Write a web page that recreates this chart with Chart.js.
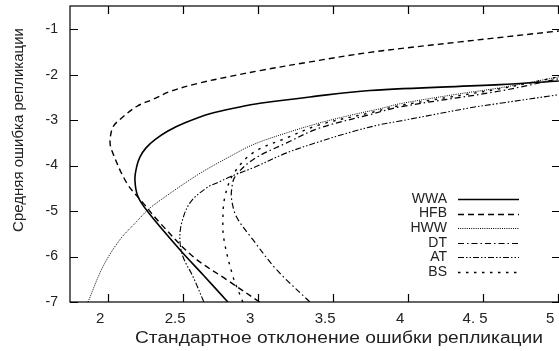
<!DOCTYPE html>
<html>
<head>
<meta charset="utf-8">
<script src="https://cdn.jsdelivr.net/npm/chart.js@4.4.0/dist/chart.umd.min.js"></script>
<style>
    html, body { margin: 0; padding: 0; background: #fff; overflow: hidden; }
</style>
</head>
<body>
<canvas id="chart" width="562" height="351"></canvas>
<script>
const seriesNames = ["WWA", "HFB", "HWW", "DT", "AT", "BS"];

// points, along each curve from the bottom branch to the top one
const wwaX = [2.798, 2.632, 2.478, 2.265, 2.198, 2.178, 2.19, 2.212, 2.252, 2.312, 2.398, 2.512, 2.678, 2.878, 3.012, 3.345, 3.745, 4.612, 5.005];
const wwaY = [-7.0, -6.40, -5.85, -5.02, -4.68, -4.31, -4.02, -3.81, -3.61, -3.43, -3.24, -3.06, -2.86, -2.71, -2.63, -2.49, -2.35, -2.22, -2.14];

const hfbX = [3.01, 2.79, 2.565, 2.345, 2.232, 2.123, 2.023, 2.012, 2.032, 2.08, 2.19, 2.30, 2.412, 2.60, 2.812, 3.012, 3.345, 3.745, 4.345, 5.005];
const hfbY = [-7.0, -6.51, -6.0, -5.26, -4.82, -4.38, -3.66, -3.45, -3.15, -2.98, -2.70, -2.54, -2.37, -2.19, -2.04, -1.91, -1.72, -1.51, -1.28, -1.04];

const hwwX = [1.865, 1.965, 2.078, 2.19, 2.265, 2.323, 2.478, 2.632, 2.812, 2.965, 3.19, 3.412, 3.632, 3.812, 3.945, 4.345, 4.612, 5.005];
const hwwY = [-7.0, -6.22, -5.63, -5.23, -4.97, -4.82, -4.46, -4.13, -3.80, -3.54, -3.28, -3.06, -2.88, -2.75, -2.64, -2.42, -2.29, -2.05];

const dtX = [3.345, 3.123, 2.965, 2.856, 2.823, 2.823, 2.845, 2.965, 3.19, 3.412, 3.745, 3.945, 4.612, 5.005];
const dtY = [-7.0, -6.29, -5.63, -5.13, -4.75, -4.53, -4.25, -3.87, -3.50, -3.17, -2.88, -2.71, -2.36, -2.09];

const atX = [2.638, 2.565, 2.498, 2.478, 2.49, 2.545, 2.656, 2.745, 2.832, 2.965, 3.19, 3.412, 3.632, 3.812, 3.945, 4.412, 4.612, 5.005];
const atY = [-7.0, -6.44, -6.0, -5.63, -5.26, -4.82, -4.49, -4.35, -4.22, -4.05, -3.72, -3.47, -3.25, -3.10, -3.02, -2.73, -2.63, -2.44];

const bsX = [2.898, 2.878, 2.832, 2.772, 2.765, 2.778, 2.832, 2.965, 3.19, 3.412, 3.745, 3.945, 4.612, 5.005];
const bsY = [-7.0, -6.84, -6.44, -5.63, -5.13, -4.69, -4.20, -3.72, -3.39, -3.10, -2.84, -2.68, -2.31, -2.05];

const xTickValues = [2, 2.5, 3, 3.5, 4, 4.5, 5];
const xTickLabels = ["2", "2.5", "3", "3.5", "4", "4. 5", "5"];
const yTickValues = [-7, -6, -5, -4, -3, -2, -1];
const yTickLabels = ["-7", "-6", "-5", "-4", "-3", "-2", "-1"];

const xTitle = "Стандартное отклонение ошибки репликации";
const yTitle = "Средняя ошибка репликации";

const allX = [wwaX, hfbX, hwwX, dtX, atX, bsX];
const allY = [wwaY, hfbY, hwwY, dtY, atY, bsY];

const dashes = [[], [6, 4], [1, 1.2], [6, 3, 1.5, 3], [6, 2, 1.5, 2, 1.5, 2], [2.5, 5.5]];
const widths = [1.6, 1.4, 1, 1.2, 1.1, 1.4];

const textColor = "#222";
const fontFamily = "'Liberation Sans', Arial, sans-serif";

const toPoints = (xs, ys) => {
    const points = [];
    for (let i = 0; i < xs.length; i++) {
        points.push({ x: xs[i], y: ys[i] });
    }
    return points;
};

const datasets = [];
for (let i = 0; i < seriesNames.length; i++) {
    datasets.push({
        label: seriesNames[i],
        data: toPoints(allX[i], allY[i]),
        showLine: true,
        borderColor: "#000",
        borderWidth: widths[i],
        borderDash: dashes[i],
        pointRadius: 0,
        tension: 0.35,
        fill: false
    });
}

const noPadding = (scale) => {
    scale.paddingTop = 0;
    scale.paddingBottom = 0;
    scale.paddingLeft = 0;
    scale.paddingRight = 0;
};

// box round the plot, inward ticks on all four sides, legend and axis titles
const framePlugin = {
    id: "frame",
    afterDraw: (chart) => {
        const ctx = chart.ctx;
        const area = chart.chartArea;
        const xScale = chart.scales.x;
        const yScale = chart.scales.y;
        const tick = 8;

        ctx.save();
        ctx.strokeStyle = "#000";
        ctx.lineWidth = 1.2;
        ctx.setLineDash([]);
        ctx.strokeRect(area.left, area.top, area.right - area.left, area.bottom - area.top);

        ctx.beginPath();
        for (let v of xTickValues) {
            const px = Math.round(xScale.getPixelForValue(v)) + 0.5;
            ctx.moveTo(px, area.bottom);
            ctx.lineTo(px, area.bottom - tick);
            ctx.moveTo(px, area.top);
            ctx.lineTo(px, area.top + tick);
        }
        for (let v of yTickValues) {
            const py = Math.round(yScale.getPixelForValue(v)) + 0.5;
            ctx.moveTo(area.left, py);
            ctx.lineTo(area.left + tick, py);
            ctx.moveTo(area.right, py);
            ctx.lineTo(area.right - tick, py);
        }
        ctx.stroke();

        // legend
        ctx.font = "14px " + fontFamily;
        ctx.fillStyle = textColor;
        ctx.textAlign = "right";
        ctx.textBaseline = "middle";
        for (let i = 0; i < seriesNames.length; i++) {
            const ly = 199 + i * 14.6;
            ctx.fillText(seriesNames[i], 447, ly);
            ctx.beginPath();
            ctx.lineWidth = widths[i];
            ctx.setLineDash(dashes[i]);
            ctx.moveTo(458, Math.round(ly) + 0.5);
            ctx.lineTo(519, Math.round(ly) + 0.5);
            ctx.stroke();
        }
        ctx.setLineDash([]);

        // axis titles
        ctx.font = "16px " + fontFamily;
        ctx.textAlign = "center";
        ctx.textBaseline = "middle";
        const stretch = 408 / ctx.measureText(xTitle).width;
        ctx.save();
        ctx.translate(339, 339);
        ctx.scale(stretch, 1);
        ctx.fillText(xTitle, 0, 0);
        ctx.restore();

        ctx.font = "15px " + fontFamily;
        ctx.translate(19, 130);
        ctx.rotate(-Math.PI / 2);
        ctx.fillText(yTitle, 0, 0);
        ctx.restore();
    }
};

new Chart(document.querySelector("#chart"), {
    type: "scatter",
    data: { datasets: datasets },
    plugins: [framePlugin],
    options: {
        responsive: false,
        animation: false,
        devicePixelRatio: 1,
        layout: { padding: { top: 6, right: 2, left: 0, bottom: 0 } },
        plugins: {
            legend: { display: false },
            tooltip: { enabled: false }
        },
        scales: {
            x: {
                type: "linear",
                min: 1.745,
                max: 5.013,
                grid: { display: false, drawTicks: false },
                border: { display: false },
                afterBuildTicks: (scale) => {
                    scale.ticks = xTickValues.map((v) => ({ value: v }));
                },
                afterFit: (scale) => {
                    scale.height = 49;
                    noPadding(scale);
                },
                ticks: {
                    padding: 8,
                    labelOffset: -8,
                    color: textColor,
                    font: { size: 15, family: fontFamily },
                    callback: (value, index) => xTickLabels[index]
                }
            },
            y: {
                type: "linear",
                min: -7,
                max: -0.49,
                grid: { display: false, drawTicks: false },
                border: { display: false },
                afterBuildTicks: (scale) => {
                    scale.ticks = yTickValues.map((v) => ({ value: v }));
                },
                afterFit: (scale) => {
                    scale.width = 70;
                    noPadding(scale);
                },
                ticks: {
                    padding: 12,
                    color: textColor,
                    font: { size: 14, family: fontFamily },
                    callback: (value, index) => yTickLabels[index]
                }
            }
        }
    }
});
</script>
</body>
</html>
